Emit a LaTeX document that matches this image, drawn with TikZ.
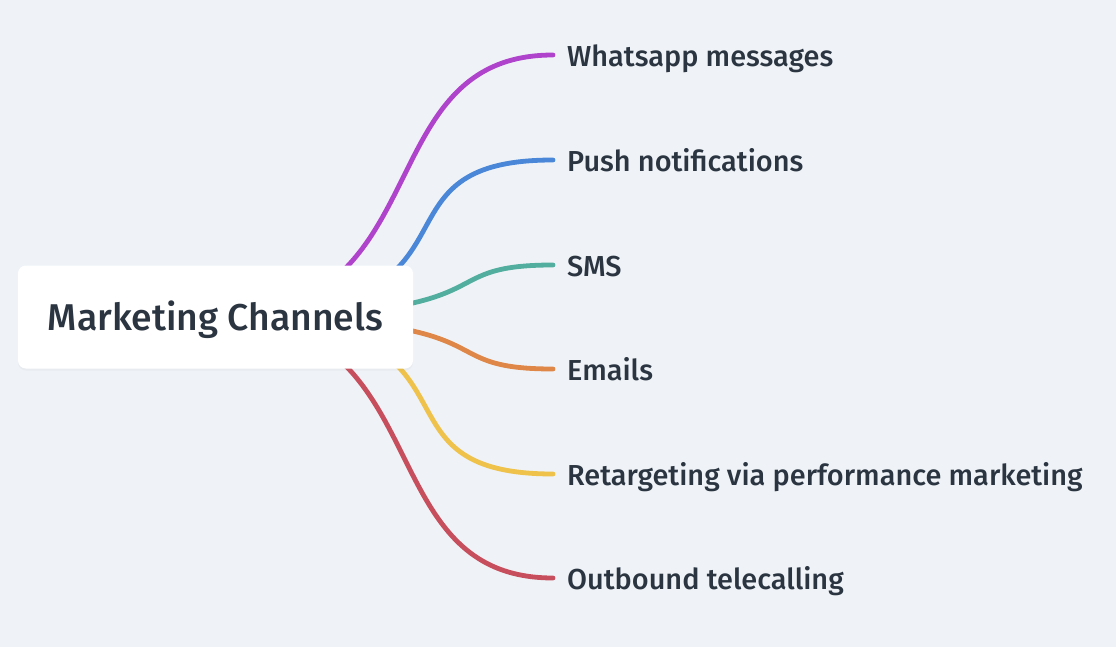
\documentclass[tikz,border=0pt]{standalone}
\usepackage{fontspec}
\setmainfont{Fira Sans}[UprightFont=* Medium]
\usepackage{tikz}
\usetikzlibrary{positioning, calc, shadows}

\definecolor{bgcol}{HTML}{EFF3F7}
\definecolor{txt}{HTML}{2B3541}
\definecolor{cwa}{HTML}{B043CC}
\definecolor{cpush}{HTML}{4A87D8}
\definecolor{csms}{HTML}{52AE9E}
\definecolor{cmail}{HTML}{DE8748}
\definecolor{cret}{HTML}{EEC24B}
\definecolor{ccall}{HTML}{C74F5D}

\pgfdeclarelayer{bg}
\pgfdeclarelayer{links}
\pgfsetlayers{bg,links,main}

\begin{document}
\begin{tikzpicture}[x=1pt, y=-1pt,
  leaf/.style={anchor=west, inner xsep=14pt, inner ysep=0pt,
    text height=20pt, text depth=0pt, text=txt,
    font=\fontsize{28.9}{34}\selectfont},
  link/.style={line width=4.8pt, line cap=round}]
\begin{pgfonlayer}{bg}
\fill[bgcol] (0,0) rectangle (1116,647);
\end{pgfonlayer}
\useasboundingbox (0,0) rectangle (1116,647);

\node[fill=white, rounded corners=8pt, minimum width=395pt, minimum height=103pt,
  text height=26pt, text depth=0pt, text=txt, font=\fontsize{37.3}{44}\selectfont,
  drop shadow={opacity=0.06, shadow xshift=0pt, shadow yshift=-2pt}]
  (root) at (215.5,317) {Marketing Channels};

\node[leaf] (wa) at (553,56.5) {Whatsapp messages};
\node[leaf] (push) at (553,161.5) {Push notifications};
\node[leaf] (sms) at (553,266.5) {SMS};
\node[leaf] (mail) at (553,370.5) {Emails};
\node[leaf] (ret) at (553,475.5) {Retargeting via performance marketing};
\node[leaf] (call) at (553,579.5) {Outbound telecalling};

% branches, drawn under the root box
\begin{pgfonlayer}{links}
\draw[link, cwa] (root.center) .. controls +(226,0) and +(-187,0) .. ([yshift=1.5pt]wa.west);
\draw[link, cpush] (root.center) .. controls +(293,0) and +(-200,0) .. ([yshift=1.5pt]push.west);
\draw[link, csms] (root.center) .. controls +(308,0) and +(-132,0) .. ([yshift=1.5pt]sms.west);
\draw[link, cmail] (root.center) .. controls +(308,0) and +(-132,0) .. ([yshift=1.5pt]mail.west);
\draw[link, cret] (root.center) .. controls +(293,0) and +(-200,0) .. ([yshift=1.5pt]ret.west);
\draw[link, ccall] (root.center) .. controls +(226,0) and +(-187,0) .. ([yshift=1.5pt]call.west);
\end{pgfonlayer}
\end{tikzpicture}
\end{document}
